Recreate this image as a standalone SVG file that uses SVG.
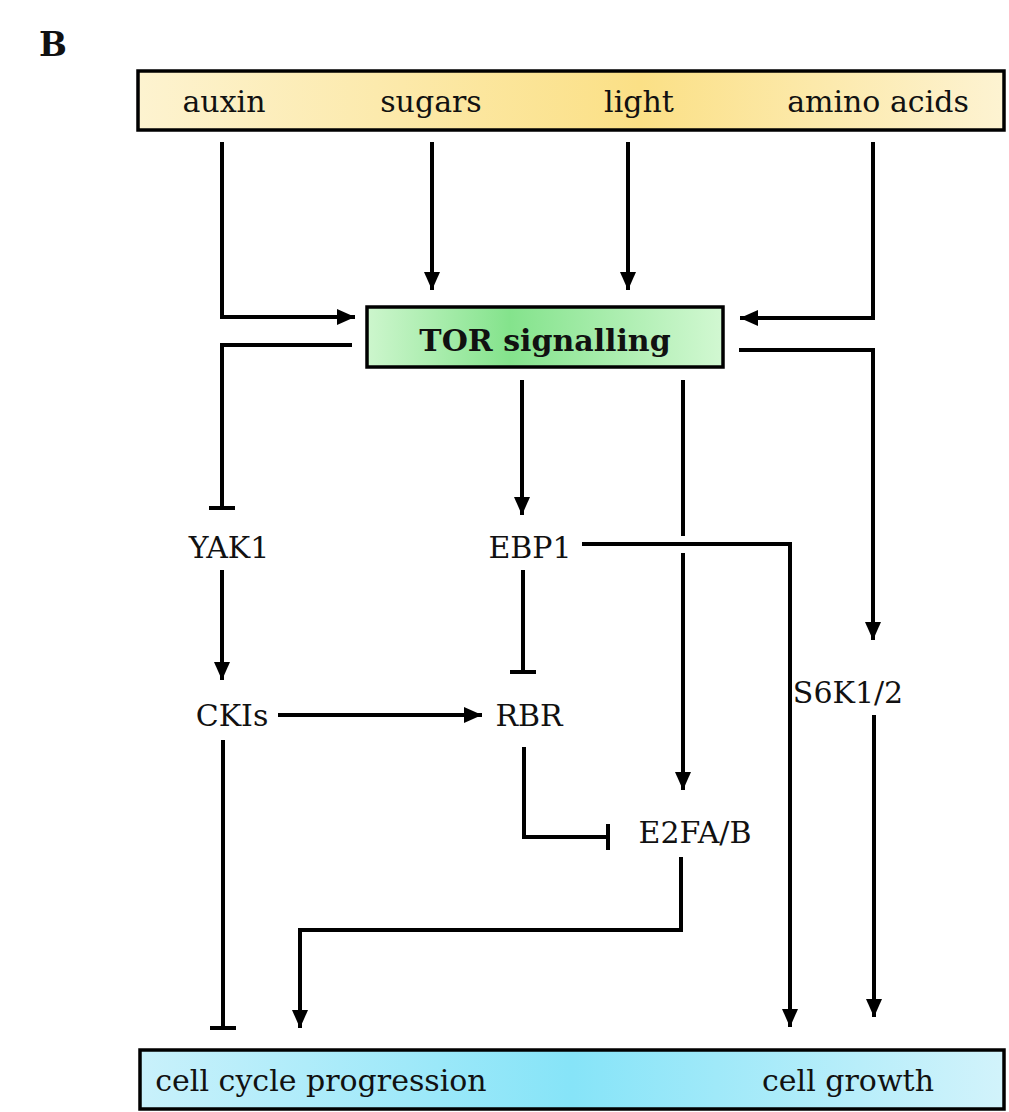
<svg xmlns="http://www.w3.org/2000/svg" width="1009" height="1112" viewBox="0 0 1009 1112">
<style>
.t{font-family:"DejaVu Serif","Liberation Serif",serif;font-size:30px;fill:#111;text-anchor:middle}
.b{stroke:#000;stroke-width:3.5;}
.c{fill:none;stroke:#000;stroke-width:4;stroke-linejoin:miter}
</style>
<defs>
<linearGradient id="gy" x1="0" x2="1" y1="0" y2="0">
<stop offset="0" stop-color="#fdf3d0"/>
<stop offset="0.58" stop-color="#fbe086"/>
<stop offset="1" stop-color="#fdf3d2"/>
</linearGradient>
<linearGradient id="gg" x1="0" x2="1" y1="0" y2="0">
<stop offset="0" stop-color="#cdf6cd"/>
<stop offset="0.4" stop-color="#84e38c"/>
<stop offset="1" stop-color="#d2f8d2"/>
</linearGradient>
<linearGradient id="gb" x1="0" x2="1" y1="0" y2="0">
<stop offset="0" stop-color="#c9f1fb"/>
<stop offset="0.5" stop-color="#86e4f8"/>
<stop offset="1" stop-color="#d2f3fb"/>
</linearGradient>
<marker id="ar" viewBox="0 0 18 16" refX="18" refY="8" markerWidth="18" markerHeight="16" markerUnits="userSpaceOnUse" orient="auto">
<path d="M0,0 L18,8 L0,16 z" fill="#000"/>
</marker>
<marker id="tee" viewBox="0 -14 4 28" refX="2" refY="0" markerWidth="4" markerHeight="28" markerUnits="userSpaceOnUse" orient="auto">
<path d="M2,-13 L2,13" stroke="#000" stroke-width="4"/>
</marker>
</defs>
<text x="39" y="56" style="font-family:'DejaVu Serif','Liberation Serif',serif;font-size:33px;font-weight:bold;fill:#111">B</text>
<g id="inputs">
<rect x="138" y="71" width="866" height="59" fill="url(#gy)" class="b"/>
<text class="t" x="224" y="112">auxin</text>
<text class="t" x="431" y="112">sugars</text>
<text class="t" x="639" y="112">light</text>
<text class="t" x="878" y="112">amino acids</text>
</g>
<g id="tor">
<rect x="367" y="307" width="356" height="60" fill="url(#gg)" class="b"/>
<text class="t" x="545" y="351" font-weight="bold" font-size="28">TOR signalling</text>
</g>
<g id="yak1"><text class="t" x="229" y="558">YAK1</text></g>
<g id="ebp1"><text class="t" x="530" y="558">EBP1</text></g>
<g id="ckis"><text class="t" x="232" y="726">CKIs</text></g>
<g id="rbr"><text class="t" x="529" y="726">RBR</text></g>
<g id="e2fa"><text class="t" x="695" y="843">E2FA/B</text></g>
<g id="s6k"><text class="t" x="848" y="703">S6K1/2</text></g>
<g id="outputs">
<rect x="140" y="1050" width="864" height="59" fill="url(#gb)" class="b"/>
<text class="t" x="321" y="1091">cell cycle progression</text>
<text class="t" x="848" y="1091">cell growth</text>
</g>
<g id="connectors">
<path class="c" d="M222,142 V317 H355" marker-end="url(#ar)"/>
<path class="c" d="M432,142 V290" marker-end="url(#ar)"/>
<path class="c" d="M628,142 V290" marker-end="url(#ar)"/>
<path class="c" d="M873,142 V318 H740" marker-end="url(#ar)"/>
<path class="c" d="M352,345 H222 V508" marker-end="url(#tee)"/>
<path class="c" d="M739,350 H873 V640" marker-end="url(#ar)"/>
<path class="c" d="M522,380 V515" marker-end="url(#ar)"/>
<path class="c" d="M683,380 V536"/>
<path class="c" d="M683,553 V790" marker-end="url(#ar)"/>
<path class="c" d="M582,544 H790 V1027" marker-end="url(#ar)"/>
<path class="c" d="M222,570 V680" marker-end="url(#ar)"/>
<path class="c" d="M523,570 V672" marker-end="url(#tee)"/>
<path class="c" d="M278,715 H482" marker-end="url(#ar)"/>
<path class="c" d="M524,747 V837 H608" marker-end="url(#tee)"/>
<path class="c" d="M681,857 V930 H300 V1028" marker-end="url(#ar)"/>
<path class="c" d="M223,740 V1028" marker-end="url(#tee)"/>
<path class="c" d="M874,715 V1017" marker-end="url(#ar)"/>
</g>
</svg>
